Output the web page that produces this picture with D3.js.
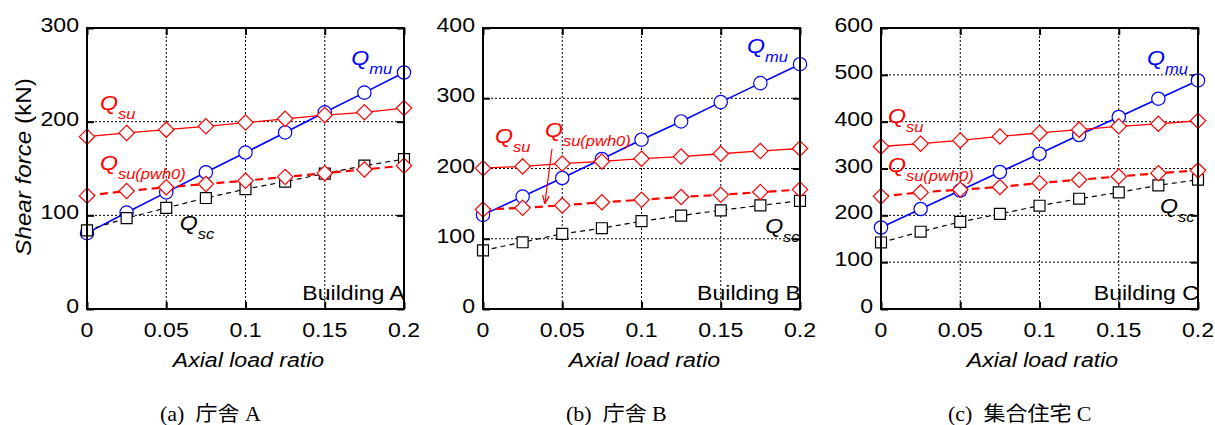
<!DOCTYPE html>
<html lang="ja">
<head>
<meta charset="UTF-8">
<title>Shear force vs axial load ratio</title>
<style>
  body { margin: 0; background: #fff; }
  svg text { font-family: "Liberation Sans", Arial, sans-serif; }
  .cap { font-family: "Liberation Serif", "Times New Roman", "Noto Sans CJK JP", serif; }
</style>
</head>
<body>
<div id="container"></div>
<script src="https://cdn.jsdelivr.net/npm/d3@7"></script>
<script>
// axial load ratio at each computed point
var ratios = [0, 0.025, 0.05, 0.075, 0.1, 0.125, 0.15, 0.175, 0.2];
var xTicks = [0, 0.05, 0.1, 0.15, 0.2];
var xTickLabels = ["0", "0.05", "0.1", "0.15", "0.2"];

// Building A (kN)
var qmuA  = [81, 103, 124.5, 146, 167, 188.5, 210, 231, 252.5];
var qsuA  = [184, 188, 191.5, 195, 199, 203, 207, 210, 214.5];
var qsu0A = [121, 126, 130, 133.5, 137, 141, 145, 149, 153];
var qscA  = [84, 97, 108, 118.5, 128, 136, 144.5, 153, 160];
// Building B
var qmuB  = [134, 160, 186.5, 213.5, 241, 267, 294.5, 321.5, 348.5];
var qsuB  = [200.5, 203, 207, 210, 214, 217, 221, 225, 228.5];
var qsu0B = [141.5, 144, 147.5, 152, 155.5, 159.5, 162.5, 166.5, 170];
var qscB  = [83.5, 95, 107, 115, 125, 133, 140.5, 147.5, 154];
// Building C
var qmuC  = [174, 213.5, 253, 292.5, 331.5, 371.5, 410, 449, 488];
var qsuC  = [347, 353, 360, 368.5, 376, 383, 390, 395.5, 402];
var qsu0C = [240.5, 249, 255, 260.5, 269, 276, 283, 290, 296];
var qscC  = [142, 165, 186, 203, 220.5, 235.5, 249, 264, 276];

var yTicksA = [0, 100, 200, 300];
var yTicksB = [0, 100, 200, 300, 400];
var yTicksC = [0, 100, 200, 300, 400, 500, 600];

var buildingNames = ["Building A", "Building B", "Building C"];
var captions = ["(a)\u00a0\u00a0庁舎 A", "(b)\u00a0\u00a0庁舎 B", "(c)\u00a0\u00a0集合住宅 C"];

// label anchors in data units [ratio, kN]
var labelMu  = [[0.1667, 260.5], [0.1666, 364.4], [0.1678, 521]];
var labelSu  = [[0.0082, 212.5], [0.0076, 236.3], [0.0044, 397]];
var labelSu0 = [[0.0082, 148.4], [0.0391, 244.8], [0.0044, 292.5]];
var labelSc  = [[0.0585, 84.3], [0.178, 108.2], [0.176, 205]];

var W = 1215, H = 425;
var svg = d3.select("#container").append("svg")
    .attr("width", W).attr("height", H);

var panelLeft = [87, 483, 881];
var captionLeft = [160, 566, 948];
var plotW = 317, plotTop = 28, plotBottom = 309;
var SX = 1.1; // the original's lettering is a bit wider than Arial

var panels = [
    { mu: qmuA, su: qsuA, su0: qsu0A, sc: qscA, ticks: yTicksA },
    { mu: qmuB, su: qsuB, su0: qsu0B, sc: qscB, ticks: yTicksB },
    { mu: qmuC, su: qsuC, su0: qsu0C, sc: qscC, ticks: yTicksC }
];

var blue = "#0000ff", red = "#ff0000";

// text placed by transform so it can be stretched sideways
function txt(parent, x, y, str, size, anchor) {
    return parent.append("text")
        .attr("transform", "translate(" + x + "," + y + ") scale(" + SX + ",1)")
        .attr("text-anchor", anchor || "start")
        .style("font-size", size + "px")
        .text(str);
}

function qLabel(g, x, y, color, sub) {
    var t = txt(g, x, y, null, 21).attr("fill", color).style("font-style", "italic");
    t.append("tspan").text("Q");
    t.append("tspan").attr("dy", 9).style("font-size", "15px").text(sub);
}

panels.forEach(function(p, i) {
    var x = d3.scaleLinear().domain([0, 0.2]).range([panelLeft[i], panelLeft[i] + plotW]);
    var yMax = p.ticks[p.ticks.length - 1];
    var y = d3.scaleLinear().domain([0, yMax]).range([plotBottom, plotTop]);
    var g = svg.append("g");

    // dotted grid
    g.selectAll("line.gx").data(xTicks.slice(1, -1)).enter().append("line")
        .attr("x1", d => x(d)).attr("x2", d => x(d))
        .attr("y1", plotTop).attr("y2", plotBottom)
        .attr("stroke", "#000").attr("stroke-width", 1).attr("stroke-dasharray", "2,2");
    g.selectAll("line.gy").data(p.ticks.slice(1, -1)).enter().append("line")
        .attr("y1", d => y(d)).attr("y2", d => y(d))
        .attr("x1", x(0)).attr("x2", x(0.2))
        .attr("stroke", "#000").attr("stroke-width", 1).attr("stroke-dasharray", "2,2");

    // inward ticks on all four sides
    var tl = 7;
    g.append("g").attr("transform", "translate(" + x(0) + ",0)")
        .call(d3.axisRight(y).tickValues(p.ticks).tickSize(tl).tickFormat(""))
        .call(a => a.select(".domain").remove())
        .selectAll("line").attr("stroke-width", 2);
    g.append("g").attr("transform", "translate(" + x(0.2) + ",0)")
        .call(d3.axisLeft(y).tickValues(p.ticks).tickSize(tl).tickFormat(""))
        .call(a => a.select(".domain").remove())
        .selectAll("line").attr("stroke-width", 2);
    g.append("g").attr("transform", "translate(0," + plotBottom + ")")
        .call(d3.axisTop(x).tickValues(xTicks).tickSize(tl).tickFormat(""))
        .call(a => a.select(".domain").remove())
        .selectAll("line").attr("stroke-width", 2);
    g.append("g").attr("transform", "translate(0," + plotTop + ")")
        .call(d3.axisBottom(x).tickValues(xTicks).tickSize(tl).tickFormat(""))
        .call(a => a.select(".domain").remove())
        .selectAll("line").attr("stroke-width", 2);

    // tick labels
    p.ticks.forEach(function(d) {
        txt(g, x(0) - 8, y(d) + 4, d, 21, "end");
    });
    xTicks.forEach(function(d, k) {
        txt(g, x(d), 337, xTickLabels[k], 21, "middle");
    });

    txt(g, x(0.1) + 3, 367, "Axial load ratio", 21, "middle").style("font-style", "italic");

    // series
    var line = d3.line().x((d, k) => x(ratios[k])).y(d => y(d));
    var series = [
        { v: p.mu,  color: blue,   w: 1.6, dash: null,  mark: "circle" },
        { v: p.sc,  color: "#000", w: 1.2, dash: "5,4", mark: "square" },
        { v: p.su0, color: red,    w: 2.2, dash: "8,5", mark: "diamond" },
        { v: p.su,  color: red,    w: 1.3, dash: null,  mark: "diamond" }
    ];
    series.forEach(function(s) {
        g.append("path").datum(s.v)
            .attr("d", line).attr("fill", "none")
            .attr("stroke", s.color).attr("stroke-width", s.w)
            .attr("stroke-dasharray", s.dash);
        var sym = s.mark === "circle" ? d3.symbolCircle
            : s.mark === "square" ? d3.symbolSquare : d3.symbolDiamond2;
        var size = s.mark === "circle" ? 140 : s.mark === "square" ? 120 : 150;
        g.selectAll(null).data(s.v).enter().append("path")
            .attr("d", d3.symbol().type(sym).size(size))
            .attr("transform", (d, k) => "translate(" + x(ratios[k]) + "," + y(d) + ")")
            .attr("fill", "#fff").attr("stroke", s.color).attr("stroke-width", 1.2);
    });

    // frame
    g.append("rect")
        .attr("x", x(0)).attr("y", plotTop)
        .attr("width", plotW).attr("height", plotBottom - plotTop)
        .attr("fill", "none").attr("stroke", "#000").attr("stroke-width", 2);

    txt(g, x(0.2) + 1, 300, buildingNames[i], 21, "end");

    qLabel(g, x(labelMu[i][0]), y(labelMu[i][1]), blue, "mu");
    qLabel(g, x(labelSu[i][0]), y(labelSu[i][1]), red, "su");
    qLabel(g, x(labelSu0[i][0]), y(labelSu0[i][1]), red, "su(pwh0)");
    qLabel(g, x(labelSc[i][0]), y(labelSc[i][1]), "#000", "sc");

    txt(svg, captionLeft[i], 421, captions[i], 20, "start").attr("class", "cap");
});

// arrow in panel B pointing at Qsu(pwh0)
(function() {
    var x = d3.scaleLinear().domain([0, 0.2]).range([panelLeft[1], panelLeft[1] + plotW]);
    var y = d3.scaleLinear().domain([0, 400]).range([plotBottom, plotTop]);
    svg.append("defs").append("marker")
        .attr("id", "ah").attr("viewBox", "0 0 10 10")
        .attr("refX", 9).attr("refY", 5)
        .attr("markerWidth", 7).attr("markerHeight", 9)
        .attr("orient", "auto")
        .append("path").attr("d", "M0,1 L10,5 L0,9").attr("fill", "none")
        .attr("stroke", red).attr("stroke-width", 1.5);
    svg.append("line")
        .attr("x1", x(0.0435)).attr("y1", y(227.8))
        .attr("x2", x(0.0391)).attr("y2", y(150.9))
        .attr("stroke", red).attr("stroke-width", 1.2)
        .attr("marker-end", "url(#ah)");
})();

// y axis title
var yt = svg.append("text")
    .attr("transform", "translate(31,167) rotate(-90) scale(" + SX + ",1)")
    .attr("text-anchor", "middle")
    .style("font-size", "22px");
yt.append("tspan").style("font-style", "italic").text("Shear force ");
yt.append("tspan").text("(kN)");
</script>
</body>
</html>
